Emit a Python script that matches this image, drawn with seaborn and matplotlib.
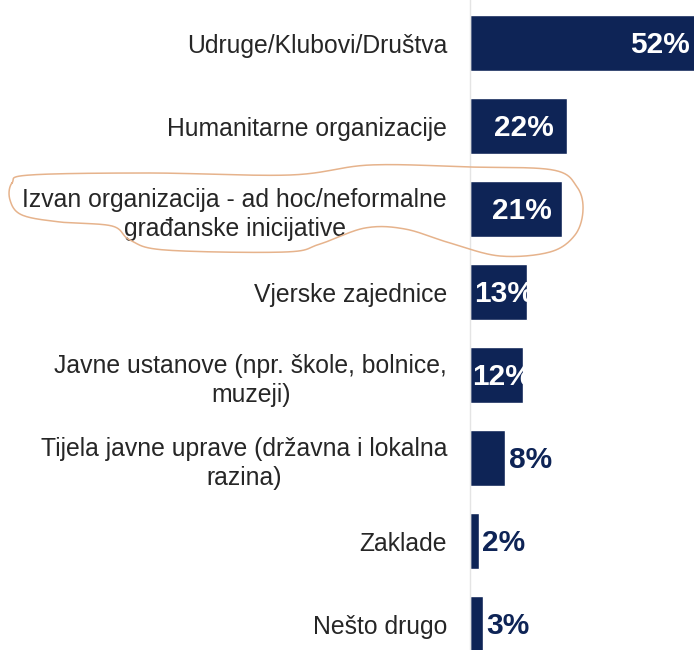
import numpy as np
import pandas as pd
import matplotlib
matplotlib.use("Agg")
import matplotlib.pyplot as plt
from matplotlib.lines import Line2D
import seaborn as sns

# ---- data ----
categories = [
    "Udruge/Klubovi/Društva",
    "Humanitarne organizacije",
    "Izvan organizacija - ad hoc/neformalne\ngrađanske inicijative",
    "Vjerske zajednice",
    "Javne ustanove (npr. škole, bolnice,\nmuzeji)",
    "Tijela javne uprave (državna i lokalna\nrazina)",
    "Zaklade",
    "Nešto drugo",
]
values = [52, 22, 21, 13, 12, 8, 2, 3]
value_labels = [f"{v}%" for v in values]

# ---- style ----
NAVY = "#0e2456"
TEXT = "#262626"
ORANGE = "#e6b38c"
W, H = 694, 650

sns.set_style("white")
plt.rcParams["font.family"] = ["Liberation Sans", "DejaVu Sans"]

df = pd.DataFrame({"category": categories, "value": values})

fig = plt.figure(figsize=(W / 100, H / 100), dpi=100)
fig.patch.set_facecolor("white")
ax_left_px, ax_right_px = 470, 694
ax = fig.add_axes([ax_left_px / W, 0, (ax_right_px - ax_left_px) / W, 1])

sns.barplot(data=df, x="value", y="category", orient="h", color=NAVY,
            width=0.675, saturation=1, ax=ax)

px_per_unit = 4.4
xmax = (ax_right_px - ax_left_px) / px_per_unit
ax.set_xlim(0, xmax)
ax.set_ylim(7.31, -0.518)

ax.set_xlabel("")
ax.set_ylabel("")
ax.set_xticks([])
ax.tick_params(axis="y", length=0, pad=16.5, labelsize=17.8, labelcolor=TEXT)
for lab in ax.get_yticklabels():
    lab.set_multialignment("center")
    lab.set_linespacing(1.27)

for side in ["top", "right", "bottom"]:
    ax.spines[side].set_visible(False)
ax.spines["left"].set_color("#e4e4e4")
ax.spines["left"].set_linewidth(1.0)

bars = ax.patches
for i, (v, lab) in enumerate(zip(values, value_labels)):
    bar = bars[i]
    yc = bar.get_y() + bar.get_height() / 2
    if v > xmax:
        t = ax.annotate(lab, (xmax, yc), xytext=(-3, -1.5), textcoords="offset points",
                        ha="right", va="center", color="white", fontsize=21.5,
                        fontweight="bold")
    elif v >= 10:
        t = ax.annotate(lab, (v / 2, yc), xytext=(4, -1.5), textcoords="offset points",
                        ha="center", va="center", color="white", fontsize=21.5,
                        fontweight="bold")
        t.set_clip_path(bar)
    else:
        t = ax.annotate(lab, (v, yc), xytext=(2.5, -1.5), textcoords="offset points",
                        ha="left", va="center", color=NAVY, fontsize=21.5,
                        fontweight="bold")

# hand-drawn orange loop around the third label
loop_pts = [(12, 183), (30, 175), (150, 173), (290, 175), (370, 165), (470, 167),
            (553, 170), (577, 187), (583, 210), (575, 235), (550, 252), (500, 256),
            (450, 243), (405, 229), (365, 228), (320, 244), (285, 252), (165, 250),
            (130, 240), (112, 226), (60, 222), (22, 215), (10, 200)]


def catmull_rom_closed(pts, n=24):
    P = np.array(pts, dtype=float)
    N = len(P)
    out = []
    t = np.linspace(0, 1, n, endpoint=False)[:, None]
    for i in range(N):
        p0, p1, p2, p3 = P[i - 1], P[i], P[(i + 1) % N], P[(i + 2) % N]
        out.append(0.5 * ((2 * p1) + (-p0 + p2) * t
                          + (2 * p0 - 5 * p1 + 4 * p2 - p3) * t ** 2
                          + (-p0 + 3 * p1 - 3 * p2 + p3) * t ** 3))
    out = np.vstack(out)
    return np.vstack([out, out[:1]])


curve = catmull_rom_closed(loop_pts)
fig.add_artist(Line2D(curve[:, 0] / W, 1 - curve[:, 1] / H, transform=fig.transFigure,
                      color=ORANGE, lw=1.1, zorder=10))

fig.savefig("out.png", dpi=100, facecolor="white")
